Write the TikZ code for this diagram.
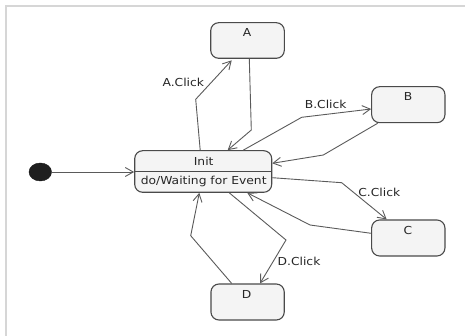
\documentclass[tikz,border=0pt]{standalone}
\usepackage{fontspec}
\setmainfont[FakeStretch=1.12]{DejaVu Sans}
\usetikzlibrary{arrows.meta,shapes.geometric}
\definecolor{boxfill}{HTML}{F4F4F4}
\definecolor{boxline}{HTML}{4A4A4A}
\definecolor{wire}{HTML}{5A5A5A}
\definecolor{frame}{HTML}{D6D6D6}
\tikzset{
  statebox/.style={draw=boxline, fill=boxfill, line width=1.1pt, rounded corners=8pt,
    minimum width=#1, inner sep=0pt},
  txt/.style={inner sep=0pt, font=\fontsize{11}{13}\selectfont, text=black!85},
  trans/.style={draw=wire, line width=0.9pt, -{Straight Barb[length=8pt,width=9pt]}},
}
\begin{document}
\begin{tikzpicture}[x=1pt, y=-1pt]
\useasboundingbox (0,0) rectangle (465,336);
% outer frame
\draw[frame, line width=1.4pt] (6,336) -- (6,6) -- (465,6);

% initial pseudo-state
\node[draw=black!90, fill=black!88, ellipse, minimum width=22.6pt, minimum height=18pt, inner sep=0pt] (start) at (40.3,172) {};

% states
\node[statebox=137pt, minimum height=41.6pt] (init) at (203.2,171.5) {};
\draw[boxline, line width=1.1pt] (init.west) -- (init.east);
\node[txt] (initname) at (203.7,161) {Init};
\node[txt] (initdo) at (203.7,181.7) {do/Waiting for Event};

\node[statebox=73.6pt, minimum height=35.6pt] (a) at (247.5,40.5) {};
\node[txt] (aname) at (247,32.7) {A};
\node[statebox=73.3pt, minimum height=36pt] (b) at (408.3,104.7) {};
\node[txt] (bname) at (408,96.7) {B};
\node[statebox=73.3pt, minimum height=36pt] (c) at (408.3,238) {};
\node[txt] (cname) at (408,230) {C};
\node[statebox=73.3pt, minimum height=36pt] (d) at (247.6,302) {};
\node[txt] (dname) at (246.7,294.3) {D};

% transitions
\draw[trans] (start) -- (start -| init.west);

\draw[trans] ([xshift=-3pt]init.north) -- (195.7,99.3) -- ([xshift=-15.8pt,yshift=-1.5pt]a.south);
\draw[trans] ([xshift=1.8pt]a.south) -- (251.3,130) -- ([xshift=24.5pt]init.north);

\draw[trans] ([xshift=40.1pt]init.north) -- (301.7,117.3) -- ([yshift=-4.3pt]b.west);
\draw[trans] ([xshift=-30.6pt]b.south) -- (323.3,155) -- ([yshift=8.2pt]init.east);

\draw[trans] ([yshift=-6.2pt]init.east) -- (341.7,182.7) -- ([xshift=-21.6pt]c.north);
\draw[trans] ([yshift=4.7pt]c.west) -- (310,225) -- ([xshift=44.1pt]init.south);

\draw[trans] ([xshift=26.1pt]init.south) -- (286,240) -- ([xshift=12.4pt]d.north);
\draw[trans] ([xshift=-15.9pt]d.north) -- (190.7,235.7) -- ([xshift=-3.9pt]init.south);

% transition labels
\node[txt] (la) at (183.3,82.7) {A.Click};
\node[txt] (lb) at (325.7,104) {B.Click};
\node[txt] (lc) at (379.3,192.7) {C.Click};
\node[txt] (ld) at (299,261.7) {D.Click};
\end{tikzpicture}
\end{document}
